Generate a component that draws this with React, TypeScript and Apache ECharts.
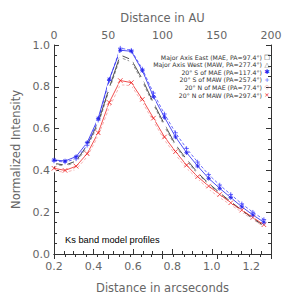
import React, { useEffect, useRef } from "react";
import * as echarts from "echarts";

const xArcsec = [0.2, 0.256, 0.312, 0.368, 0.424, 0.48, 0.536, 0.592, 0.648, 0.704, 0.76, 0.816, 0.872, 0.928, 0.984, 1.04, 1.096, 1.152, 1.208, 1.264];

const maeValues = [0.434, 0.425, 0.445, 0.52, 0.63, 0.795, 0.952, 0.93, 0.836, 0.724, 0.62, 0.523, 0.453, 0.389, 0.338, 0.293, 0.25, 0.21, 0.171, 0.135];
const mawValues = [0.43, 0.42, 0.44, 0.51, 0.62, 0.785, 0.94, 0.92, 0.825, 0.715, 0.61, 0.515, 0.445, 0.383, 0.333, 0.288, 0.246, 0.207, 0.168, 0.133];
const sMaeValues = [0.45, 0.445, 0.466, 0.533, 0.649, 0.836, 0.975, 0.97, 0.877, 0.753, 0.654, 0.56, 0.485, 0.421, 0.362, 0.314, 0.27, 0.226, 0.187, 0.152];
const sMawValues = [0.445, 0.44, 0.455, 0.52, 0.64, 0.83, 0.985, 0.975, 0.885, 0.77, 0.67, 0.58, 0.505, 0.44, 0.38, 0.33, 0.285, 0.24, 0.2, 0.165];
const nMaeValues = [0.4, 0.39, 0.405, 0.465, 0.565, 0.7, 0.81, 0.805, 0.725, 0.635, 0.545, 0.475, 0.41, 0.36, 0.31, 0.27, 0.235, 0.2, 0.165, 0.13];
const nMawValues = [0.41, 0.4, 0.42, 0.48, 0.58, 0.725, 0.83, 0.82, 0.74, 0.65, 0.56, 0.49, 0.425, 0.37, 0.325, 0.285, 0.245, 0.21, 0.175, 0.14];

const legendLabels = [
  "Major Axis East (MAE, PA=97.4°)",
  "Major Axis West (MAW, PA=277.4°)",
  "20° S of MAE (PA=117.4°)",
  "20° S of MAW (PA=257.4°)",
  "20° N of MAE (PA=77.4°)",
  "20° N of MAW (PA=297.4°)",
];
const legendGlyphs = ["□", "△", "✱", "+", "◇", "×"];

const annotation = "Ks band model profiles";

const CROSS = "path://M0,0L10,10M10,0L0,10";
const PLUS = "path://M5,0L5,10M0,5L10,5";
const STAR = "path://M5,0L5,10M0,5L10,5M1.5,1.5L8.5,8.5M8.5,1.5L1.5,8.5";

export default function App() {
  const ref = useRef<HTMLDivElement>(null);
  useEffect(() => {
    if (!ref.current) return;
    const chart = echarts.init(ref.current, undefined, { renderer: "svg" });
    const pairs = (vals: number[]) => xArcsec.map((x, i) => [x, vals[i]]);
    const axisFont = { fontFamily: "DejaVu Sans", fontSize: 11, color: "#666" };
    const lineStyleAxis = { color: "#333", width: 1 };

    const mk = (
      name: string,
      vals: number[],
      color: string,
      dashed: boolean,
      symbol: string,
      size: number,
      fill: boolean
    ) => ({
      name,
      type: "line",
      xAxisIndex: 0,
      yAxisIndex: 0,
      data: pairs(vals),
      symbol,
      symbolSize: size,
      showSymbol: true,
      lineStyle: { color, width: 0.8, type: dashed ? [3, 2] : "solid" },
      itemStyle: fill
        ? { color, borderColor: color, borderWidth: 0.8 }
        : { color: "none", borderColor: color, borderWidth: 0.8 },
      emphasis: { disabled: true },
      z: 3,
    });

    const legendColors = ["#444", "#777", "#2222ee", "#4444ff", "#f4a0a0", "#ee2222"];
    const graphics: any[] = [];
    legendLabels.forEach((t, i) => {
      const y = 57 + i * 7.6;
      graphics.push({
        type: "text",
        x: 262,
        y,
        style: {
          text: t,
          textAlign: "right",
          textVerticalAlign: "middle",
          fontFamily: "DejaVu Sans",
          fontSize: 6.2,
          fill: "#333",
        },
        z: 10,
      });
      graphics.push({
        type: "text",
        x: 267,
        y,
        style: {
          text: legendGlyphs[i],
          textAlign: "center",
          textVerticalAlign: "middle",
          fontFamily: "DejaVu Sans",
          fontSize: 6.5,
          fill: legendColors[i],
        },
        z: 10,
      });
    });
    graphics.push({
      type: "text",
      x: 65,
      y: 240,
      style: {
        text: annotation,
        textVerticalAlign: "middle",
        fontFamily: "Liberation Sans",
        fontSize: 9.3,
        fill: "#000",
      },
      z: 10,
    });

    chart.setOption({
      animation: false,
      backgroundColor: "#fff",
      grid: { left: 54, right: 29, top: 45, bottom: 46 },
      xAxis: [
        {
          type: "value",
          position: "bottom",
          min: 0.2,
          max: 1.3,
          interval: 0.2,
          name: "Distance in arcseconds",
          nameLocation: "middle",
          nameGap: 28,
          nameTextStyle: { ...axisFont, fontSize: 11.5 },
          axisLine: { show: true, lineStyle: lineStyleAxis },
          axisTick: { show: true, inside: true, length: 5, lineStyle: lineStyleAxis },
          minorTick: { show: true, splitNumber: 4, length: 3, lineStyle: lineStyleAxis },
          axisLabel: {
            ...axisFont,
            margin: 7,
            formatter: (v: number) => v.toFixed(1),
            showMaxLabel: false,
          },
          splitLine: { show: false },
        },
        {
          type: "value",
          position: "top",
          min: 0,
          max: 200,
          interval: 50,
          name: "Distance in AU",
          nameLocation: "middle",
          nameGap: 21,
          nameTextStyle: { ...axisFont, fontSize: 11.5 },
          axisLine: { show: true, lineStyle: lineStyleAxis },
          axisTick: { show: true, inside: true, length: 5, lineStyle: lineStyleAxis },
          minorTick: { show: true, splitNumber: 5, length: 3, lineStyle: lineStyleAxis },
          axisLabel: { ...axisFont, margin: 4 },
          splitLine: { show: false },
        },
      ],
      yAxis: [
        {
          type: "value",
          position: "left",
          min: 0,
          max: 1,
          interval: 0.2,
          name: "Normalized Intensity",
          nameLocation: "middle",
          nameGap: 32,
          nameTextStyle: { ...axisFont, fontSize: 11.5 },
          axisLine: { show: true, lineStyle: lineStyleAxis },
          axisTick: { show: true, inside: true, length: 5, lineStyle: lineStyleAxis },
          minorTick: { show: true, splitNumber: 4, length: 3, lineStyle: lineStyleAxis },
          axisLabel: { ...axisFont, margin: 4, formatter: (v: number) => v.toFixed(1) },
          splitLine: { show: false },
        },
        {
          type: "value",
          position: "right",
          min: 0,
          max: 1,
          interval: 0.2,
          axisLine: { show: true, lineStyle: lineStyleAxis },
          axisTick: { show: true, inside: true, length: 5, lineStyle: lineStyleAxis },
          minorTick: { show: true, splitNumber: 4, length: 3, lineStyle: lineStyleAxis },
          axisLabel: { show: false },
          splitLine: { show: false },
        },
      ],
      series: [
        mk("MAW", mawValues, "#777777", true, "emptyTriangle", 4.5, false),
        mk("MAE", maeValues, "#222222", false, "emptyRect", 4.5, false),
        mk("N MAE", nMaeValues, "#f4a0a0", true, "emptyDiamond", 4.5, false),
        mk("N MAW", nMawValues, "#ee2222", false, CROSS, 4.5, false),
        mk("S MAW", sMawValues, "#4444ff", true, PLUS, 4.5, false),
        mk("S MAE", sMaeValues, "#2222ee", false, STAR, 4.5, false),
      ],
      graphic: graphics,
    });
    return () => chart.dispose();
  }, []);
  return <div ref={ref} style={{ width: 300, height: 300, position: "absolute", left: 0, top: 0 }} />;
}
